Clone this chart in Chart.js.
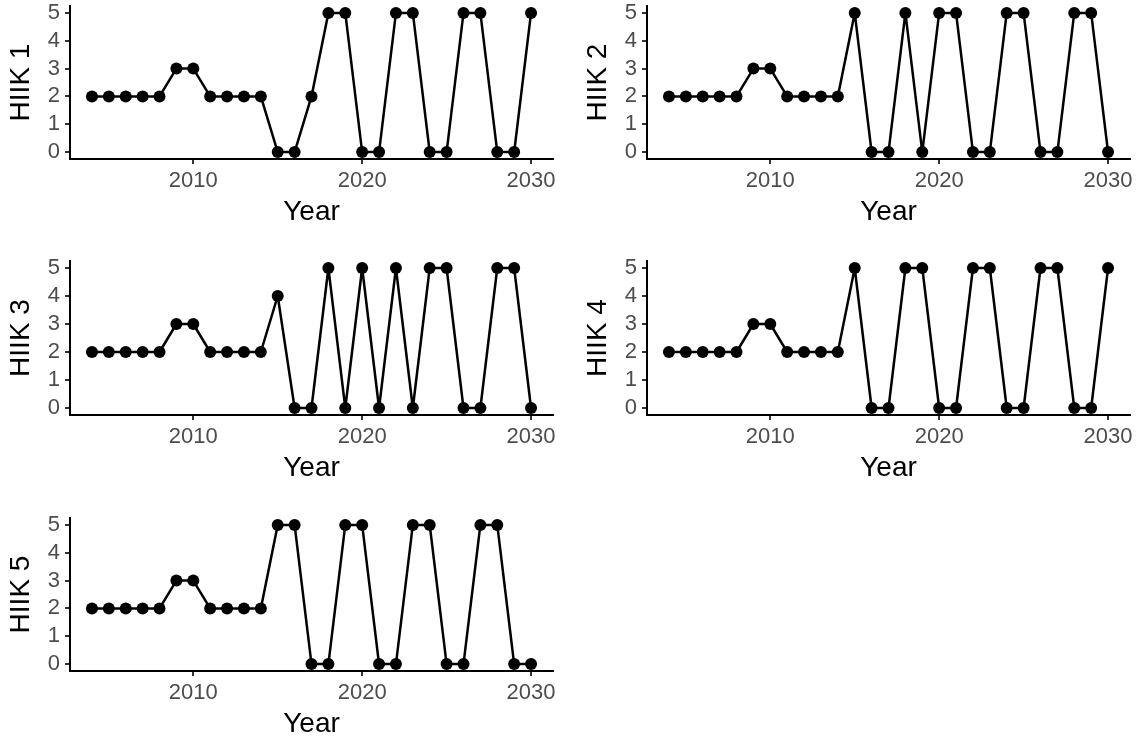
<!DOCTYPE html>
<html>
<head>
<meta charset="utf-8">
<script src="https://cdn.jsdelivr.net/npm/chart.js@4.4.0/dist/chart.umd.min.js"></script>
<style>
  body { margin:0; background:#fff; width:1138px; height:742px; position:relative; overflow:hidden; }
  canvas { position:absolute; }
</style>
</head>
<body>
<canvas id="p1"></canvas>
<canvas id="p2"></canvas>
<canvas id="p3"></canvas>
<canvas id="p4"></canvas>
<canvas id="p5"></canvas>
<script>
// Data
const years = [2004,2005,2006,2007,2008,2009,2010,2011,2012,2013,2014,2015,2016,2017,2018,2019,2020,2021,2022,2023,2024,2025,2026,2027,2028,2029,2030];
const hiik1 = [2,2,2,2,2,3,3,2,2,2,2,0,0,2,5,5,0,0,5,5,0,0,5,5,0,0,5];
const hiik2 = [2,2,2,2,2,3,3,2,2,2,2,5,0,0,5,0,5,5,0,0,5,5,0,0,5,5,0];
const hiik3 = [2,2,2,2,2,3,3,2,2,2,2,4,0,0,5,0,5,0,5,0,5,5,0,0,5,5,0];
const hiik4 = [2,2,2,2,2,3,3,2,2,2,2,5,0,0,5,5,0,0,5,5,0,0,5,5,0,0,5];
const hiik5 = [2,2,2,2,2,3,3,2,2,2,2,5,5,0,0,5,5,0,0,5,5,0,0,5,5,0,0];
const panelLabels = ['HIIK 1','HIIK 2','HIIK 3','HIIK 4','HIIK 5'];
const panelSeries = [hiik1, hiik2, hiik3, hiik4, hiik5];
const xTicks = [2010, 2020, 2030];
const yTicks = [0, 1, 2, 3, 4, 5];

// canvas placement: left, top, width, height, right padding
const boxes = [
  [0,   0,   569, 229, 16],
  [577, 0,   561, 229, 8],
  [0,   255, 569, 230, 16],
  [577, 255, 561, 230, 8],
  [0,   512, 569, 229, 16]
];

Chart.defaults.font.family = "'Liberation Sans', Arial, Helvetica, sans-serif";

function makePanel(i) {
  const [left, top, w, h, padRight] = boxes[i];
  const cv = document.getElementById('p' + (i + 1));
  cv.width = w; cv.height = h;
  cv.style.left = left + 'px'; cv.style.top = top + 'px';

  new Chart(cv.getContext('2d'), {
    type: 'line',
    data: {
      datasets: [{
        data: years.map((y, k) => ({x: y, y: panelSeries[i][k]})),
        borderColor: '#000', borderWidth: 2.5, tension: 0,
        borderJoinStyle: 'round', borderCapStyle: 'round',
        pointRadius: 6, pointBackgroundColor: '#000', pointBorderWidth: 0,
        clip: false
      }]
    },
    options: {
      responsive: false, animation: false, devicePixelRatio: 1,
      layout: {padding: {top: 5, left: 0, right: padRight, bottom: 0}},
      plugins: {legend: {display: false}, tooltip: {enabled: false}},
      scales: {
        x: {
          type: 'linear', min: 2002.7, max: 2031.3,
          afterBuildTicks: s => { s.ticks = xTicks.map(v => ({value: v})); },
          afterFit: s => { s.height = 70; s.paddingLeft = 0; s.paddingRight = 0; },
          grid: {drawOnChartArea: false, drawTicks: true, tickLength: 5, color: '#333', lineWidth: 2},
          border: {display: true, color: '#000', width: 2},
          ticks: {color: '#4D4D4D', font: {size: 22}, padding: 4, maxRotation: 0, autoSkip: false,
                  callback: v => String(v)},
          title: {display: true, text: 'Year', color: '#000', font: {size: 28}, padding: 0}
        },
        y: {
          min: -0.25, max: 5.25,
          afterBuildTicks: s => { s.ticks = yTicks.map(v => ({value: v})); },
          afterFit: s => { s.width = 70; s.paddingTop = 0; s.paddingBottom = 0; },
          grid: {drawOnChartArea: false, drawTicks: true, tickLength: 5, color: '#333', lineWidth: 2},
          border: {display: true, color: '#000', width: 2},
          ticks: {color: '#4D4D4D', font: {size: 22}, padding: 5},
          title: {display: true, text: panelLabels[i], color: '#000', font: {size: 28}, padding: {top: 4, bottom: 0}}
        }
      }
    }
  });
}

for (let i = 0; i < 5; i++) makePanel(i);
</script>
</body>
</html>
